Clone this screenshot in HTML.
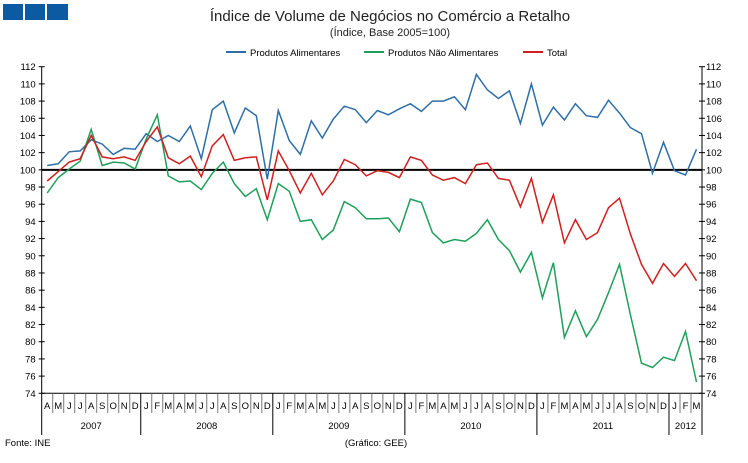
<!DOCTYPE html>
<html><head><meta charset="utf-8"><style>
body{margin:0;background:#fff;}
svg text{font-family:"Liberation Sans",sans-serif;}
</style></head><body>
<svg id="s" width="748" height="458" xmlns="http://www.w3.org/2000/svg">
<rect x="3" y="4" width="20" height="16" fill="#0b5aa2"/>
<rect x="25" y="4" width="20" height="16" fill="#0b5aa2"/>
<rect x="47" y="4" width="21" height="16" fill="#0b5aa2"/>
<text x="390" y="21" font-size="15" text-anchor="middle" fill="#222">Índice de Volume de Negócios no Comércio a Retalho</text>
<text x="390" y="36" font-size="11" text-anchor="middle" fill="#222">(Índice, Base 2005=100)</text>
<line x1="226" y1="52" x2="246" y2="52" stroke="#2e6fa8" stroke-width="2"/>
<text x="250" y="56" font-size="9.5">Produtos Alimentares</text>
<line x1="364" y1="52" x2="384" y2="52" stroke="#1fa05a" stroke-width="2"/>
<text x="388" y="56" font-size="9.5">Produtos Não Alimentares</text>
<line x1="523" y1="52" x2="543" y2="52" stroke="#d01f1f" stroke-width="2"/>
<text x="547" y="56" font-size="9.5">Total</text>
<text x="5" y="446" font-size="9.5">Fonte: INE</text>
<text x="376" y="446" font-size="9.5" text-anchor="middle">(Gráfico: GEE)</text>
<g id="g"></g>
</svg>
<script>
var NS="http://www.w3.org/2000/svg",g=document.getElementById('g');
function el(t,a,txt){var e=document.createElementNS(NS,t);for(var k in a)e.setAttribute(k,a[k]);if(txt)e.textContent=txt;g.appendChild(e);return e;}
var L=41.7,R=702,T=66.7,B=393.3,W=(R-L)/60;
function Y(v){return B-(v-74)*(B-T)/38;}
var blue=[100.5,100.7,102.1,102.2,103.5,103.0,101.8,102.5,102.4,104.2,103.3,104.0,103.3,105.1,101.3,107.0,108.0,104.3,107.2,106.3,98.9,106.9,103.4,101.8,105.7,103.7,105.9,107.4,107.0,105.5,106.9,106.4,107.1,107.7,106.8,108.0,108.0,108.5,107.0,111.1,109.3,108.3,109.2,105.4,110.0,105.2,107.3,105.8,107.7,106.3,106.1,108.1,106.6,104.9,104.2,99.6,103.2,99.9,99.4,102.4];
var green=[97.3,99.1,100.1,101.0,104.7,100.5,100.9,100.8,100.1,103.6,106.4,99.3,98.6,98.7,97.7,99.6,100.9,98.4,96.9,97.8,94.2,98.4,97.5,94.0,94.2,91.9,93.0,96.3,95.6,94.3,94.3,94.4,92.8,96.6,96.2,92.7,91.5,91.9,91.7,92.6,94.2,91.9,90.6,88.1,90.4,85.1,89.2,80.5,83.6,80.6,82.6,85.7,89.0,83.1,77.5,77.0,78.2,77.8,81.2,75.3];
var red=[98.7,99.8,100.9,101.3,104.0,101.5,101.3,101.5,101.1,103.3,105.0,101.4,100.7,101.6,99.2,102.8,104.1,101.1,101.4,101.5,96.5,102.2,99.9,97.3,99.6,97.1,98.7,101.2,100.6,99.3,99.9,99.7,99.1,101.5,101.1,99.4,98.8,99.1,98.4,100.6,100.8,99.0,98.8,95.7,99.0,93.9,97.1,91.5,94.2,91.9,92.7,95.6,96.7,92.5,89.0,86.8,89.1,87.6,89.1,87.1];
// axes
el('line',{x1:L,y1:T,x2:L,y2:435,stroke:'#000'});
el('line',{x1:R,y1:T,x2:R,y2:435,stroke:'#000'});
for(var v=74;v<=112;v+=2){var y=Y(v);
el('line',{x1:L-3,y1:y,x2:L+3,y2:y,stroke:'#000'});
el('line',{x1:R-3,y1:y,x2:R+3,y2:y,stroke:'#000'});
el('text',{x:L-6,y:y+3.5,'font-size':9.5,'text-anchor':'end'},v);
el('text',{x:R+4,y:y+3.5,'font-size':9.5},v);}
el('line',{x1:L,y1:B,x2:R,y2:B,stroke:'#000'});
var ms="AMJJASONDJFMAMJJASONDJFMAMJJASONDJFMAMJJASONDJFMAMJJASONDJFM";
for(var i=0;i<60;i++){var x=L+W*i;
var yb=(i==9||i==21||i==33||i==45||i==57);
if(i>0)el('line',{x1:x,y1:B,x2:x,y2:yb?435:413,stroke:yb?'#000':'#777'});
el('text',{x:x+W/2,y:409,'font-size':9.5,'text-anchor':'middle'},ms[i]);}
[[0,9,'2007'],[9,21,'2008'],[21,33,'2009'],[33,45,'2010'],[45,57,'2011'],[57,60,'2012']].forEach(function(a){
el('text',{x:L+W*(a[0]+a[1])/2,y:429,'font-size':9.5,'text-anchor':'middle'},a[2]);});
el('line',{x1:L,y1:Y(100),x2:R,y2:Y(100),stroke:'#000','stroke-width':2});
function ser(d,c){var p=d.map(function(v,i){return (L+W*(i+0.5)).toFixed(1)+','+Y(v).toFixed(1);}).join(' ');
el('polyline',{points:p,fill:'none',stroke:c,'stroke-width':1.5});}
ser(blue,'#2e6fa8');ser(green,'#1fa05a');ser(red,'#d01f1f');
</script>
</body></html>
